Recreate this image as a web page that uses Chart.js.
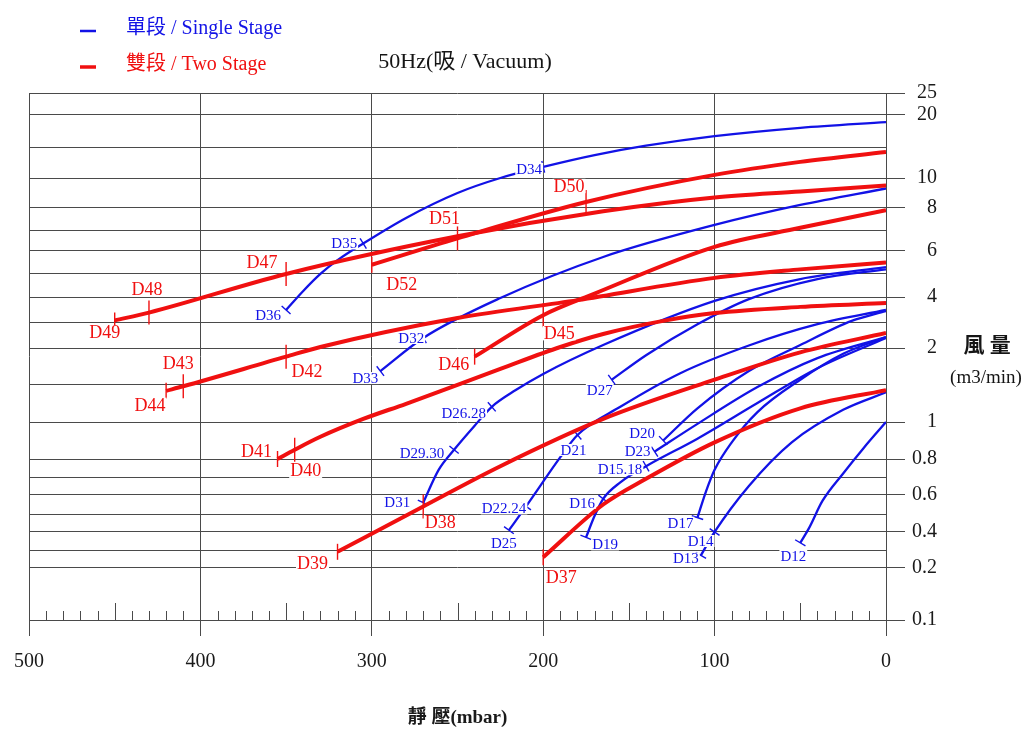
<!DOCTYPE html>
<html>
<head>
<meta charset="utf-8">
<script src="https://cdn.jsdelivr.net/npm/chart.js@4.4.1/dist/chart.umd.min.js"></script>
<style>
  html, body { margin: 0; padding: 0; background: #fff; }
  canvas { display: block; }
</style>
</head>
<body>
<canvas id="pumpChart" width="1033" height="742"></canvas>
<script>
// flow axis (m3/min): every grid line, and the ones carrying a label
const flowTicks = [0.1, 0.2, 0.3, 0.4, 0.5, 0.6, 0.7, 0.8, 1, 1.5, 2, 3, 4, 5, 6, 7, 8, 10, 15, 20, 25];
const flowTickLabels = [0.1, 0.2, 0.4, 0.6, 0.8, 1, 2, 4, 6, 8, 10, 20, 25];
const pressureTickLabels = [500, 400, 300, 200, 100, 0];

// two stage (red): static pressure (mbar) and flow (m3/min) along each curve
const redPressure = [
  [300, 250, 175, 100, 50, 0],
  [450, 430, 350, 250, 165, 100, 50, 0],
  [240, 200, 170, 100, 50, 0],
  [420, 410, 350, 330, 250, 180, 100, 50, 0],
  [355, 345, 330, 305, 280, 225, 190, 165, 130, 100, 50, 0],
  [320, 270, 225, 165, 100, 50, 0],
  [200, 165, 140, 100, 50, 0]
];
const redFlow = [
  [5.4, 6.6, 8.4, 10.5, 12.6, 14.2],
  [3.1, 3.4, 5.0, 6.7, 7.85, 8.7, 9.1, 9.5],
  [1.88, 3.3, 4.15, 6.2, 7.1, 7.9],
  [1.41, 1.47, 1.88, 2.04, 3.19, 3.88, 4.83, 5.2, 5.5],
  [0.8, 0.85, 0.92, 1.04, 1.24, 1.71, 2.04, 2.56, 3.08, 3.38, 3.62, 3.77],
  [0.29, 0.54, 0.76, 1.04, 1.56, 1.94, 2.6],
  [0.26, 0.55, 0.69, 0.89, 1.18, 1.42]
];
const redMarkNames = [
  ['D52', 'D51', 'D50'],
  ['D49', 'D48', 'D47'],
  ['D46', 'D45'],
  ['D44', 'D43', 'D42'],
  ['D41', 'D40'],
  ['D39', 'D38'],
  ['D37']
];
const redMarkAt = [
  [300, 250, 175],
  [450, 430, 350],
  [240, 200],
  [420, 410, 350],
  [355, 345],
  [320, 270],
  [200]
];

// single stage (blue)
const bluePressure = [
  [350, 340, 330, 320, 305, 280, 250, 225, 200, 170, 140, 100, 50, 0],
  [295, 270, 225, 165, 100, 50, 0],
  [270, 261, 252, 240, 230, 216, 200, 165, 100, 50, 0],
  [160, 140, 110, 80, 40, 0],
  [220, 210, 190, 180, 155, 120, 80, 40, 0],
  [130, 110, 80, 50, 20, 0],
  [135, 110, 75, 40, 0],
  [175, 170, 165, 155, 140, 110, 75, 40, 0],
  [110, 105, 100, 90, 75, 50, 25, 0],
  [108, 100, 80, 55, 25, 0],
  [50, 45, 37, 25, 13, 0]
];
const blueFlow = [
  [3.5, 4.26, 5.0, 5.6, 6.36, 7.55, 9.0, 10, 11.8, 13.7, 15.2, 16.7, 18, 18.9],
  [1.68, 2.4, 3.96, 5.74, 7.23, 8.2, 9.3],
  [0.56, 0.74, 0.85, 0.98, 1.2, 1.42, 1.64, 2.12, 3.85, 4.78, 5.3],
  [1.56, 1.9, 2.95, 3.92, 4.78, 5.2],
  [0.41, 0.54, 0.81, 0.93, 1.2, 1.65, 2.1, 2.95, 3.5],
  [0.9, 1.18, 1.68, 2.12, 3.08, 3.46],
  [0.84, 0.99, 1.46, 1.86, 2.44],
  [0.37, 0.49, 0.58, 0.67, 0.76, 0.91, 1.25, 1.72, 2.4],
  [0.48, 0.62, 0.74, 0.89, 1.13, 1.56, 1.92, 2.44],
  [0.27, 0.4, 0.65, 0.89, 1.16, 1.39],
  [0.34, 0.42, 0.57, 0.72, 0.86, 1.0]
];
const blueMarkNames = [
  ['D36', 'D35', 'D34'],
  ['D33', 'D32'],
  ['D31', 'D29.30', 'D26.28'],
  ['D27'],
  ['D25', 'D22.24', 'D21'],
  ['D20'],
  ['D23'],
  ['D19', 'D16', 'D15.18'],
  ['D17'],
  ['D13', 'D14'],
  ['D12']
];
const blueMarkAt = [
  [350, 305, 200],
  [295, 270],
  [270, 252, 230],
  [160],
  [220, 210, 180],
  [130],
  [135],
  [175, 165, 140],
  [110],
  [108, 100],
  [50]
];

const RED = '#f01010';
const BLUE = '#1212e6';
const GRID = '#4a4a4a';
const SERIF = '"Liberation Serif", "Noto Sans CJK TC", serif';

// where each flow grid line sits, as a fraction of the plot height (the sheet is not a true log scale)
const flowGridPos = [0, 0.0987, 0.1328, 0.167, 0.2011, 0.2372, 0.2713, 0.3055, 0.3757, 0.4478, 0.5161,
  0.5636, 0.6129, 0.6566, 0.7002, 0.74, 0.7818, 0.8387, 0.8975, 0.9583, 1];

class SheetFlowScale extends Chart.LinearScale {
  buildTicks() {
    return flowTicks.map(v => ({ value: v }));
  }
  getPixelForValue(value) {
    let i = 0;
    while (i < flowTicks.length - 2 && value > flowTicks[i + 1]) i++;
    const t = (value - flowTicks[i]) / (flowTicks[i + 1] - flowTicks[i]);
    return this.getPixelForDecimal(flowGridPos[i] + t * (flowGridPos[i + 1] - flowGridPos[i]));
  }
  getValueForPixel(pixel) {
    const d = this.getDecimalForPixel(pixel);
    let i = 0;
    while (i < flowGridPos.length - 2 && d > flowGridPos[i + 1]) i++;
    const t = (d - flowGridPos[i]) / (flowGridPos[i + 1] - flowGridPos[i]);
    return flowTicks[i] + t * (flowTicks[i + 1] - flowTicks[i]);
  }
}
SheetFlowScale.id = 'sheetflow';
SheetFlowScale.defaults = Chart.LinearScale.defaults;
Chart.register(SheetFlowScale);

const labelOffset = {
  D52: [30, 19], D51: [-13, -20], D50: [-17, -16], D49: [-10, 12], D48: [-2, -23], D47: [-24, -12],
  D46: [-21, 8], D45: [16, 18], D44: [-16, 14], D43: [-5, -23], D42: [21, 15], D41: [-21, -8],
  D40: [11, 21], D39: [-25, 11], D38: [17, 16], D37: [18, 20],
  D36: [-18, 5], D35: [-19, 0], D34: [-14, 2], D33: [-15, 7], D32: [-12, 0], D31: [-26, -1],
  'D29.30': [-32, 3], 'D26.28': [-28, 6], D27: [-12, 10], D25: [-5, 13], 'D22.24': [-22, 2],
  D21: [-4, 15], D20: [-21, -7], D23: [-17, -1], 'D15.18': [-26, 3], D16: [-21, 4], D19: [19, 7],
  D17: [-17, 5], D14: [-14, 9], D13: [-15, 3], D12: [-7, 13]
};

function normalAngle(ctx) {
  const data = ctx.dataset.data;
  const i = ctx.dataIndex;
  const a = data[Math.max(0, i - 1)];
  const b = data[Math.min(data.length - 1, i + 1)];
  const xs = ctx.chart.scales.x;
  const ys = ctx.chart.scales.y;
  const dx = xs.getPixelForValue(b.x) - xs.getPixelForValue(a.x);
  const dy = ys.getPixelForValue(b.y) - ys.getPixelForValue(a.y);
  return Math.atan2(dy, dx) * 180 / Math.PI + 90;
}

function buildCurves(pressures, flows, markNames, markAt, color, width, isRed) {
  return pressures.map((ps, i) => ({
    label: markNames[i].join(' / '),
    data: ps.map((p, j) => ({ x: p, y: flows[i][j] })),
    borderColor: color,
    borderWidth: width,
    cubicInterpolationMode: 'monotone',
    fill: false,
    pointStyle: 'line',
    pointBorderColor: color,
    pointBackgroundColor: color,
    pointBorderWidth: 1.4,
    pointRadius: function (ctx) {
      const p = ps[ctx.dataIndex];
      if (!markAt[i].includes(p)) return 0;
      if (isRed) return ctx.dataIndex === 0 ? 8 : 12;
      return 6;
    },
    pointRotation: function (ctx) {
      return isRed ? 90 : normalAngle(ctx);
    }
  }));
}

const curveDatasets = buildCurves(redPressure, redFlow, redMarkNames, redMarkAt, RED, 4, true)
  .concat(buildCurves(bluePressure, blueFlow, blueMarkNames, blueMarkAt, BLUE, 2.3, false));

const minorTicks = {
  id: 'minorTicks',
  beforeDatasetsDraw(chart) {
    const { ctx, chartArea, scales } = chart;
    ctx.save();
    ctx.strokeStyle = GRID;
    ctx.lineWidth = 1;
    for (let v = 10; v < 500; v += 10) {
      if (v % 100 === 0) continue;
      const x = Math.round(scales.x.getPixelForValue(v)) + 0.5;
      const h = v % 50 === 0 ? 17 : 9;
      ctx.beginPath();
      ctx.moveTo(x, chartArea.bottom);
      ctx.lineTo(x, chartArea.bottom - h);
      ctx.stroke();
    }
    ctx.restore();
  }
};

function drawMarkLabels(chart, pressures, flows, markNames, markAt, color, size) {
  const { ctx, scales } = chart;
  ctx.font = size + 'px ' + SERIF;
  ctx.textAlign = 'center';
  ctx.textBaseline = 'middle';
  markNames.forEach((names, i) => {
    names.forEach((name, k) => {
      const p = markAt[i][k];
      const f = flows[i][pressures[i].indexOf(p)];
      const off = labelOffset[name] || [0, 0];
      const x = scales.x.getPixelForValue(p) + off[0];
      const y = scales.y.getPixelForValue(f) + off[1];
      const w = ctx.measureText(name).width;
      ctx.fillStyle = '#fff';
      ctx.fillRect(x - w / 2 - 1, y - size * 0.4, w + 2, size * 0.8);
      ctx.fillStyle = color;
      ctx.fillText(name, x, y + 1);
    });
  });
}

const sheetText = {
  id: 'sheetText',
  afterDatasetsDraw(chart) {
    const { ctx } = chart;
    ctx.save();
    drawMarkLabels(chart, redPressure, redFlow, redMarkNames, redMarkAt, RED, 18);
    drawMarkLabels(chart, bluePressure, blueFlow, blueMarkNames, blueMarkAt, BLUE, 15);

    // legend
    ctx.lineWidth = 2.5;
    ctx.strokeStyle = BLUE;
    ctx.beginPath(); ctx.moveTo(80, 31); ctx.lineTo(96, 31); ctx.stroke();
    ctx.lineWidth = 3.5;
    ctx.strokeStyle = RED;
    ctx.beginPath(); ctx.moveTo(80, 67); ctx.lineTo(96, 67); ctx.stroke();
    ctx.textAlign = 'left';
    ctx.textBaseline = 'middle';
    ctx.font = '20px ' + SERIF;
    ctx.fillStyle = BLUE;
    ctx.fillText('單段 / Single Stage', 126, 29);
    ctx.fillStyle = RED;
    ctx.fillText('雙段 / Two Stage', 126, 65);

    // title
    ctx.textAlign = 'center';
    ctx.fillStyle = '#151515';
    ctx.font = '22px ' + SERIF;
    ctx.fillText('50Hz(吸 / Vacuum)', 465, 62);

    // flow axis title
    ctx.font = 'bold 21px ' + SERIF;
    ctx.fillText('風 量', 987, 347);
    ctx.font = '19px ' + SERIF;
    ctx.fillText('(m3/min)', 986, 378);
    ctx.restore();
  }
};

new Chart(document.getElementById('pumpChart'), {
  type: 'line',
  data: { datasets: curveDatasets },
  options: {
    responsive: false,
    animation: false,
    devicePixelRatio: 1,
    layout: { padding: { top: 93, left: 27, right: 96, bottom: 0 } },
    plugins: {
      legend: { display: false },
      tooltip: { enabled: false }
    },
    scales: {
      x: {
        type: 'linear',
        reverse: true,
        min: 0,
        max: 500,
        ticks: {
          stepSize: 100,
          maxRotation: 0,
          autoSkip: false,
          color: '#1a1a1a',
          padding: 14,
          font: { family: SERIF, size: 20 },
          callback: v => pressureTickLabels.includes(v) ? String(v) : ''
        },
        grid: { color: GRID, tickColor: GRID, tickLength: 16, lineWidth: 1 },
        border: { color: GRID, width: 1 },
        title: {
          display: true,
          text: '靜 壓(mbar)',
          color: '#1a1a1a',
          font: { family: SERIF, size: 19, weight: 'bold' },
          padding: { top: 0, bottom: 13 }
        },
        afterFit: scale => { scale.height = 122; }
      },
      y: {
        type: 'sheetflow',
        position: 'right',
        min: 0.1,
        max: 25,
        ticks: {
          autoSkip: false,
          color: '#1a1a1a',
          padding: 7,
          crossAlign: 'far',
          font: { family: SERIF, size: 20 },
          callback: v => flowTickLabels.includes(v) ? String(v) : ''
        },
        grid: {
          color: GRID,
          lineWidth: 1,
          tickLength: 19,
          tickColor: c => (c.tick && flowTickLabels.includes(c.tick.value)) ? GRID : 'rgba(0,0,0,0)'
        },
        border: { color: GRID, width: 1 },
        afterFit: scale => { scale.width = 51; }
      }
    }
  },
  plugins: [minorTicks, sheetText]
});
</script>
</body>
</html>
